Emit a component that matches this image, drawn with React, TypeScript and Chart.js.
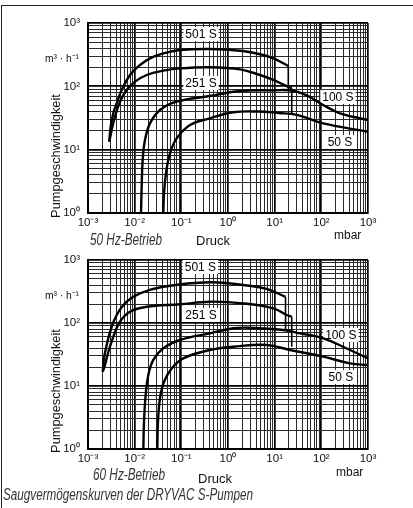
import React, { useEffect, useRef } from "react";
import { Chart, registerables } from "chart.js";

Chart.register(...registerables);

// ---------- axis ticks ----------
const xDecades = [-3, -2, -1, 0, 1, 2, 3];
const xTickLabels = ["10⁻³", "10⁻²", "10⁻¹", "10⁰", "10¹", "10²", "10³"];
const yDecades = [0, 1, 2, 3];
const yTickLabels = ["10⁰", "10¹", "10²", "10³"];
const minorSteps = [1, 2, 3, 4, 5, 6, 7, 8, 9];

// ---------- 50 Hz data (x = Druck mbar, y = m³/h) ----------
const s501_50x = [0.00286, 0.00306, 0.00348, 0.00412, 0.00527, 0.00794, 0.013, 0.0213, 0.041, 0.0936, 0.411, 1.81, 4.85, 9.35, 15.3, 19.6];
const s501_50y = [13.4, 23.1, 37.5, 54, 87.5, 151, 217, 277, 332, 375, 389, 365, 321, 277, 231, 210];
const d501_50x = [19.6, 19.6];
const d501_50y = [210, 91];

const s251_50x = [0.00286, 0.00322, 0.00379, 0.00485, 0.00675, 0.01017, 0.0181, 0.041, 0.0936, 0.411, 1.81, 4.85, 9.35, 18.1, 23.2];
const s251_50y = [13.4, 20.5, 33.2, 57.2, 87.5, 118.5, 151, 176.6, 192, 200, 185, 151, 126, 101, 93];
const d251_50x = [23.2, 23.2];
const d251_50y = [93, 38];

const s100_50x = [0.01368, 0.01412, 0.01485, 0.01664, 0.0213, 0.0349, 0.0794, 0.411, 1.81, 9.35, 23.2, 48.5, 110, 251, 1000];
const s100_50y = [1, 2.6, 6.9, 14.2, 26, 42.3, 57.2, 70.4, 84.4, 86.5, 86, 72, 50.7, 37.5, 29.4];

const s50_50x = [0.041, 0.0426, 0.0469, 0.0571, 0.0794, 0.1535, 0.411, 1.28, 4.5, 12, 30, 110, 1000];
const s50_50y = [1, 2.05, 4.24, 8.75, 15.1, 24.5, 31.3, 38.9, 40, 38, 35.5, 26, 19.2];

// ---------- 60 Hz data ----------
const s501_60x = [0.00207, 0.0022, 0.00251, 0.00306, 0.00412, 0.00675, 0.013, 0.041, 0.411, 2.1, 6.75, 17.1];
const s501_60y = [16.9, 27.5, 44.8, 77.4, 134, 218, 296, 377, 443, 401, 347, 259];
const d501_60x = [17.1, 17.1];
const d501_60y = [259, 77];

const s251_60x = [0.00207, 0.00231, 0.00273, 0.00349, 0.00485, 0.00794, 0.0181, 0.0936, 0.411, 2.1, 9.35, 18.1, 23.2];
const s251_60y = [16.9, 21.5, 35, 60.6, 105, 151, 181, 198, 218, 205, 171, 134, 126];
const d251_60x = [23.2, 23.2];
const d251_60y = [126, 42];

const s100_60x = [0.01535, 0.01585, 0.0172, 0.0196, 0.0251, 0.041, 0.0936, 0.411, 1.3, 2.96, 15.3, 34.9, 110, 411, 1000];
const s100_60y = [1, 2.7, 7.2, 15, 25.9, 39.6, 53.7, 68.6, 82.4, 84, 77.4, 68.6, 57.2, 37.3, 27.5];

const s50_60x = [0.0305, 0.0316, 0.0349, 0.0426, 0.0621, 0.11, 0.411, 1.3, 6.75, 21.3, 110, 411, 1000];
const s50_60y = [1, 2.7, 6.4, 11.7, 19, 27.5, 37.3, 42, 44.8, 37.3, 29.2, 22.9, 21.5];

// ---------- series labels ----------
const seriesNames = ["501 S", "251 S", "100 S", "50 S"];
const label50x = [0.264, 0.264, 227, 251];
const label50y = [670, 113, 68, 13.2];
const label60x = [0.256, 0.264, 262, 262];
const label60y = [774, 134, 64.6, 13.9];

const SANS = '"Liberation Sans", Arial, Helvetica, sans-serif';

const num = (v: number) => Number(v.toPrecision(12));
const isDecade = (v: number) => {
  if (!(v > 0)) return false;
  const l = Math.log10(v);
  return Math.abs(l - Math.round(l)) < 1e-9;
};
function tickValues(decades: number[]) {
  const out: number[] = [];
  for (let i = 0; i < decades.length - 1; i++) {
    for (const m of minorSteps) out.push(num(m * Math.pow(10, decades[i])));
  }
  out.push(num(Math.pow(10, decades[decades.length - 1])));
  return out;
}
function labelFor(v: number, decades: number[], labels: string[]) {
  if (!isDecade(v)) return "";
  const idx = decades.indexOf(Math.round(Math.log10(v)));
  return idx >= 0 ? labels[idx] : "";
}

type Series = { xs: number[]; ys: number[]; dx?: number[]; dy?: number[] };

function buildDatasets(series: Series[]) {
  const ds: any[] = [];
  series.forEach((s, i) => {
    ds.push({
      label: seriesNames[i],
      data: s.xs.map((x, k) => ({ x, y: s.ys[k] })),
      borderColor: "#000",
      borderWidth: 2.4,
      pointRadius: 0,
      fill: false,
      tension: 0.4,
    });
    if (s.dx && s.dy) {
      ds.push({
        label: seriesNames[i] + " Abfall",
        data: s.dx.map((x, k) => ({ x, y: s.dy![k] })),
        borderColor: "#000",
        borderWidth: 1.6,
        pointRadius: 0,
        fill: false,
        tension: 0,
      });
    }
  });
  return ds;
}

const gridColor = (c: any) => (isDecade(c.tick?.value) ? "#000" : "#2a2a2a");
const gridWidth = (c: any) => (isDecade(c.tick?.value) ? 1.7 : 1);

function makeLabelPlugin(lx: number[], ly: number[]) {
  return {
    id: "seriesLabels",
    beforeDatasetsDraw(chart: any) {
      const { ctx, scales } = chart;
      ctx.save();
      ctx.font = `12px ${SANS}`;
      ctx.textAlign = "center";
      ctx.textBaseline = "middle";
      seriesNames.forEach((name, i) => {
        const px = scales.x.getPixelForValue(lx[i]);
        const py = scales.y.getPixelForValue(ly[i]);
        const w = ctx.measureText(name).width + 4;
        ctx.fillStyle = "#fff";
        ctx.fillRect(px - w / 2, py - 7, w, 14);
        ctx.fillStyle = "#000";
        ctx.fillText(name, px, py + 0.5);
      });
      ctx.restore();
    },
  };
}

function Panel(props: { top: number; padTop: number; series: Series[]; lx: number[]; ly: number[] }) {
  const ref = useRef<HTMLCanvasElement | null>(null);
  useEffect(() => {
    if (!ref.current) return;
    const xt = tickValues(xDecades);
    const yt = tickValues(yDecades);
    const chart = new Chart(ref.current, {
      type: "line",
      data: { datasets: buildDatasets(props.series) },
      plugins: [makeLabelPlugin(props.lx, props.ly)],
      options: {
        animation: false,
        responsive: false,
        devicePixelRatio: 1,
        layout: { padding: { top: props.padTop, right: 45, left: 0, bottom: 0 } },
        plugins: { legend: { display: false }, tooltip: { enabled: false } },
        scales: {
          x: {
            type: "logarithmic",
            min: 0.001,
            max: 1000,
            afterBuildTicks: (scale: any) => {
              scale.ticks = xt.map((v) => ({ value: v }));
            },
            afterFit: (scale: any) => {
              scale.height = 37;
            },
            ticks: {
              autoSkip: false,
              maxRotation: 0,
              minRotation: 0,
              padding: 3,
              color: "#111",
              font: { family: SANS, size: 11.5 },
              callback: (v: any) => labelFor(Number(v), xDecades, xTickLabels),
            },
            grid: { color: gridColor, lineWidth: gridWidth, drawTicks: false },
            border: { color: "#000", width: 2 },
          },
          y: {
            type: "logarithmic",
            min: 1,
            max: 1000,
            afterBuildTicks: (scale: any) => {
              scale.ticks = yt.map((v) => ({ value: v }));
            },
            afterFit: (scale: any) => {
              scale.width = 88;
            },
            ticks: {
              autoSkip: false,
              padding: 8,
              color: "#111",
              font: { family: SANS, size: 11.5 },
              callback: (v: any) => labelFor(Number(v), yDecades, yTickLabels),
            },
            grid: { color: gridColor, lineWidth: gridWidth, drawTicks: false },
            border: { color: "#000", width: 2 },
          },
        },
      } as any,
    });
    return () => chart.destroy();
  }, []);
  return (
    <canvas
      ref={ref}
      width={413}
      height={250}
      style={{ position: "absolute", left: 0, top: props.top, width: 413, height: 250 }}
    />
  );
}

let measureCtx: CanvasRenderingContext2D | null = null;
function measure(text: string, font: string) {
  if (!measureCtx) measureCtx = document.createElement("canvas").getContext("2d");
  if (!measureCtx) return 0;
  measureCtx.font = font;
  return measureCtx.measureText(text).width;
}

function Txt(props: { x: number; y: number; size: number; italic?: boolean; color?: string; fitWidth?: number; children: string }) {
  const style = props.italic ? "italic " : "";
  let scale = 1;
  if (props.fitWidth) {
    const w = measure(props.children, `${style}${props.size}px ${SANS}`);
    if (w > 0) scale = props.fitWidth / w;
  }
  return (
    <div
      style={{
        position: "absolute",
        left: props.x,
        top: props.y - props.size / 2,
        fontSize: props.size,
        lineHeight: 1,
        fontFamily: SANS,
        fontStyle: props.italic ? "italic" : "normal",
        color: props.color || "#111",
        whiteSpace: "nowrap",
        transform: scale !== 1 ? `scaleX(${scale})` : undefined,
        transformOrigin: "0 50%",
      }}
    >
      {props.children}
    </div>
  );
}

function VTitle(props: { cx: number; cy: number }) {
  return (
    <div
      style={{
        position: "absolute",
        left: props.cx,
        top: props.cy,
        transform: "translate(-50%, -50%) rotate(-90deg)",
        fontSize: 12.8,
        lineHeight: 1,
        fontFamily: SANS,
        color: "#111",
        whiteSpace: "nowrap",
      }}
    >
      Pumpgeschwindigkeit
    </div>
  );
}

export default function App() {
  const series50: Series[] = [
    { xs: s501_50x, ys: s501_50y, dx: d501_50x, dy: d501_50y },
    { xs: s251_50x, ys: s251_50y, dx: d251_50x, dy: d251_50y },
    { xs: s100_50x, ys: s100_50y },
    { xs: s50_50x, ys: s50_50y },
  ];
  const series60: Series[] = [
    { xs: s501_60x, ys: s501_60y, dx: d501_60x, dy: d501_60y },
    { xs: s251_60x, ys: s251_60y, dx: d251_60x, dy: d251_60y },
    { xs: s100_60x, ys: s100_60y },
    { xs: s50_60x, ys: s50_60y },
  ];
  return (
    <div style={{ position: "fixed", left: 0, top: 0, width: 413, height: 508, background: "#fff", overflow: "hidden" }}>
      <div style={{ position: "absolute", left: 1, top: 5, width: 420, height: 510, borderLeft: "1.5px solid #222", borderTop: "1.5px solid #222" }} />
      <Panel top={0} padTop={23} series={series50} lx={label50x} ly={label50y} />
      <Panel top={236} padTop={24} series={series60} lx={label60x} ly={label60y} />

      <Txt x={45} y={58} size={11} fitWidth={34}>m³ · h⁻¹</Txt>
      <VTitle cx={56} cy={156} />
      <Txt x={90} y={240} size={16} italic color="#333" fitWidth={72}>50 Hz-Betrieb</Txt>
      <Txt x={196} y={240} size={13}>Druck</Txt>
      <Txt x={334} y={235} size={12}>mbar</Txt>

      <Txt x={45} y={295} size={11} fitWidth={34}>m³ · h⁻¹</Txt>
      <VTitle cx={56} cy={391} />
      <Txt x={93} y={475} size={16} italic color="#333" fitWidth={72}>60 Hz-Betrieb</Txt>
      <Txt x={198} y={478} size={13}>Druck</Txt>
      <Txt x={336} y={472} size={12}>mbar</Txt>

      <Txt x={3} y={495} size={16} italic color="#333" fitWidth={250}>Saugvermögenskurven der DRYVAC S-Pumpen</Txt>
    </div>
  );
}
